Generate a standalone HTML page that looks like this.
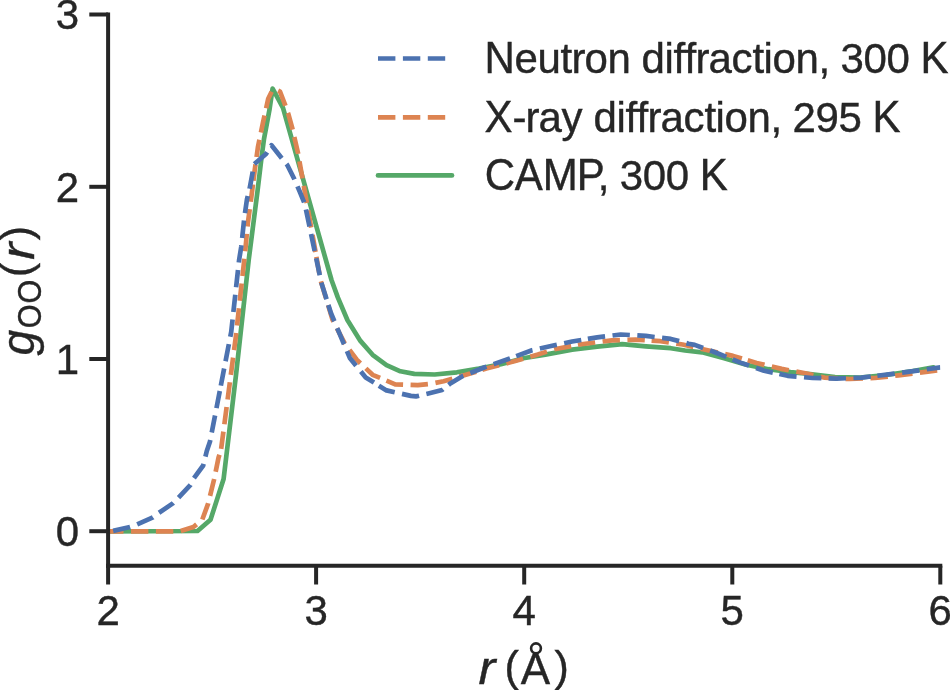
<!DOCTYPE html>
<html><head><meta charset="utf-8"><style>
html,body{margin:0;padding:0;background:#fff;width:950px;height:690px;overflow:hidden}
svg{display:block;position:absolute;left:0;top:0}
svg{will-change:transform}
</style></head><body>
<svg width="950" height="690" viewBox="0 0 950 690">
<defs><clipPath id="ax"><rect x="108.1" y="14.5" width="832.2" height="551.2"/></clipPath></defs>
<g clip-path="url(#ax)" fill="none" stroke-width="4.7" stroke-linejoin="round">
<polyline points="108.1,531.3 197.5,531.0 210.5,519.8 223.6,479.0 236.0,375.0 248.7,260.0 257.4,192.0 261.6,157.0 264.0,139.0 269.6,109.0 272.6,88.5 283.0,107.8 331.5,280.0 337.8,297.4 347.4,320.0 360.4,340.9 372.6,354.8 386.5,365.2 400.4,371.3 414.3,373.9 434.7,374.5 456.8,372.3 478.9,368.6 501.0,364.2 523.2,358.3 545.3,354.6 572.1,349.6 597.2,346.7 622.2,344.2 645.8,346.4 670.8,348.2 685.0,350.5 702.1,352.3 724.2,358.2 746.3,364.8 768.4,369.2 790.5,372.2 810.0,374.0 835.0,377.0 860.0,377.5 886.0,375.0 913.0,371.0 933.5,367.3" stroke="#55A868" stroke-linecap="round"/>
<polyline points="108.1,531.3 180.0,531.3 193.4,527.0 202.3,519.6 208.2,503.4 214.0,479.8 218.5,457.7 220.6,451.1" stroke="#DD8452" stroke-dasharray="17.4 7.5" stroke-dashoffset="2.00"/>
<polyline points="220.6,451.1 221.0,450.0 235.8,337.0 245.2,251.3 247.8,223.5 251.3,197.4 253.4,180.8" stroke="#DD8452" stroke-dasharray="17.4 7.5" stroke-dashoffset="22.65"/>
<polyline points="253.4,180.8 254.8,169.6 258.0,146.7 263.1,122.0 268.2,98.8 272.0,91.0 276.0,89.5 280.0,91.5 285.0,104.6 288.6,114.8 292.2,127.8 298.0,153.0 303.5,184.3 316.2,255.7" stroke="#DD8452" stroke-dasharray="17.4 7.5" stroke-dashoffset="0.87"/>
<polyline points="316.2,255.7 320.5,280.0 332.6,320.0 344.8,343.5 357.0,360.0 372.6,374.8 383.6,379.4" stroke="#DD8452" stroke-dasharray="17.4 7.5" stroke-dashoffset="23.72"/>
<polyline points="383.6,379.4 395.2,384.3 417.8,385.2 430.0,384.0 431.6,383.7" stroke="#DD8452" stroke-dasharray="17.4 7.5" stroke-dashoffset="21.83"/>
<polyline points="431.6,383.7 443.6,381.2 464.2,375.3 479.8,370.6" stroke="#DD8452" stroke-dasharray="17.4 7.5" stroke-dashoffset="20.95"/>
<polyline points="479.8,370.6 486.3,368.6 514.3,361.3 537.9,354.6 554.4,349.2 574.9,345.4" stroke="#DD8452" stroke-dasharray="17.4 7.5" stroke-dashoffset="22.29"/>
<polyline points="574.9,345.4 579.5,344.5 611.9,340.3 635.5,339.6 648.5,340.4" stroke="#DD8452" stroke-dasharray="17.4 7.5" stroke-dashoffset="21.82"/>
<polyline points="648.5,340.4 660.5,341.2 682.6,344.5 697.0,347.8" stroke="#DD8452" stroke-dasharray="17.4 7.5" stroke-dashoffset="21.81"/>
<polyline points="697.0,347.8 706.5,350.0 733.0,355.9 745.5,359.7" stroke="#DD8452" stroke-dasharray="17.4 7.5" stroke-dashoffset="20.99"/>
<polyline points="745.5,359.7 756.6,363.0 781.7,368.9 792.5,370.9" stroke="#DD8452" stroke-dasharray="17.4 7.5" stroke-dashoffset="22.59"/>
<polyline points="792.5,370.9 805.3,373.3 824.7,377.6 841.8,378.6" stroke="#DD8452" stroke-dasharray="17.4 7.5" stroke-dashoffset="21.02"/>
<polyline points="841.8,378.6 849.8,379.0 874.8,378.0 891.5,376.2" stroke="#DD8452" stroke-dasharray="17.4 7.5" stroke-dashoffset="21.11"/>
<polyline points="891.5,376.2 898.4,375.4 927.9,371.7 940.3,370.0" stroke="#DD8452" stroke-dasharray="17.4 7.5" stroke-dashoffset="21.20"/>
<polyline points="108.1,532.0 130.0,527.0 136.7,524.7 152.9,517.4 158.8,512.9 172.8,503.4 177.9,498.2 190.5,484.9 193.4,479.0 203.2,465.5 206.8,451.0 210.0,441.5 220.5,387.4" stroke="#4C72B0" stroke-dasharray="17.4 7.5" stroke-dashoffset="19.72"/>
<polyline points="220.5,387.4 231.2,332.0 239.1,260.0 241.2,247.0 244.3,218.0 247.0,199.0 249.6,188.7 252.2,174.8 253.4,167.9" stroke="#4C72B0" stroke-dasharray="17.4 7.5" stroke-dashoffset="23.10"/>
<polyline points="253.4,167.9 254.0,164.3 266.0,154.0 271.5,145.2 280.4,156.5 287.4,165.2 294.3,179.0 299.6,191.3 304.8,204.0 305.2,206.0" stroke="#4C72B0" stroke-dasharray="17.4 7.5" stroke-dashoffset="20.80"/>
<polyline points="305.2,206.0 321.3,282.6 327.7,302.8" stroke="#4C72B0" stroke-dasharray="17.4 7.5" stroke-dashoffset="21.29"/>
<polyline points="327.7,302.8 330.9,313.0 340.4,335.7 350.0,358.3 365.7,377.4 377.2,384.6" stroke="#4C72B0" stroke-dasharray="17.4 7.5" stroke-dashoffset="22.66"/>
<polyline points="377.2,384.6 386.5,390.4 410.9,395.9 416.0,396.4 427.4,393.7 442.1,390.0 445.9,386.9" stroke="#4C72B0" stroke-dasharray="17.4 7.5" stroke-dashoffset="22.92"/>
<polyline points="445.9,386.9 449.5,384.1 462.7,376.0 484.8,367.2 508.4,359.0 513.6,357.1" stroke="#4C72B0" stroke-dasharray="17.4 7.5" stroke-dashoffset="21.55"/>
<polyline points="513.6,357.1 532.0,350.2 555.6,345.0 572.1,341.5 584.9,339.4" stroke="#4C72B0" stroke-dasharray="17.4 7.5" stroke-dashoffset="22.12"/>
<polyline points="584.9,339.4 597.2,337.4 620.7,334.5 633.6,335.2" stroke="#4C72B0" stroke-dasharray="17.4 7.5" stroke-dashoffset="21.90"/>
<polyline points="633.6,335.2 645.8,335.9 670.8,338.9 682.8,342.1" stroke="#4C72B0" stroke-dasharray="17.4 7.5" stroke-dashoffset="21.19"/>
<polyline points="682.8,342.1 688.5,343.7 694.7,344.9 716.8,353.0 729.8,358.3" stroke="#4C72B0" stroke-dasharray="17.4 7.5" stroke-dashoffset="21.14"/>
<polyline points="729.8,358.3 740.4,362.6 764.0,370.7 776.5,373.4" stroke="#4C72B0" stroke-dasharray="17.4 7.5" stroke-dashoffset="21.78"/>
<polyline points="776.5,373.4 787.6,375.8 812.6,378.0 825.1,378.3" stroke="#4C72B0" stroke-dasharray="17.4 7.5" stroke-dashoffset="21.95"/>
<polyline points="825.1,378.3 836.5,378.6 861.6,377.6 874.5,376.1" stroke="#4C72B0" stroke-dasharray="17.4 7.5" stroke-dashoffset="21.43"/>
<polyline points="874.5,376.1 886.6,374.6 913.2,371.2 940.4,367.3" stroke="#4C72B0" stroke-dasharray="17.4 7.5" stroke-dashoffset="21.98"/>
</g>
<g stroke="#262626" stroke-width="4" fill="none" stroke-linecap="square">
<line x1="108.1" y1="14.5" x2="108.1" y2="565.7"/>
<line x1="108.1" y1="565.7" x2="940.3" y2="565.7"/>
</g>
<g stroke="#262626" stroke-width="4" fill="none">
<line x1="89.3" y1="531.2" x2="108.1" y2="531.2"/>
<line x1="89.3" y1="359.0" x2="108.1" y2="359.0"/>
<line x1="89.3" y1="186.8" x2="108.1" y2="186.8"/>
<line x1="89.3" y1="14.5" x2="108.1" y2="14.5"/>
<line x1="108.1" y1="565.7" x2="108.1" y2="584.5"/>
<line x1="316.1" y1="565.7" x2="316.1" y2="584.5"/>
<line x1="524.2" y1="565.7" x2="524.2" y2="584.5"/>
<line x1="732.3" y1="565.7" x2="732.3" y2="584.5"/>
<line x1="940.3" y1="565.7" x2="940.3" y2="584.5"/>
</g>
<g font-family="Liberation Sans" stroke="#262626" stroke-width="0.4" font-size="42" fill="#262626">
<text transform="translate(79.00,546.15) scale(1,1.026)" text-anchor="end">0</text>
<text transform="translate(79.00,373.90) scale(1,1.026)" text-anchor="end">1</text>
<text transform="translate(79.00,201.65) scale(1,1.026)" text-anchor="end">2</text>
<text transform="translate(79.00,29.40) scale(1,1.026)" text-anchor="end">3</text>
<text transform="translate(108.10,625.00) scale(1,1.026)" text-anchor="middle">2</text>
<text transform="translate(316.15,625.00) scale(1,1.026)" text-anchor="middle">3</text>
<text transform="translate(524.20,625.00) scale(1,1.026)" text-anchor="middle">4</text>
<text transform="translate(732.25,625.00) scale(1,1.026)" text-anchor="middle">5</text>
<text transform="translate(940.30,625.00) scale(1,1.026)" text-anchor="middle">6</text>
</g>
<g font-family="Liberation Sans" stroke="#262626" stroke-width="0.4" fill="#262626">
<text transform="translate(478.6,683.8) scale(1.1,1)" font-size="46" font-style="italic">r</text>
<text x="504.6" y="680.9" font-size="43">(</text>
<text x="520.8" y="683.8" font-size="44">A</text>
<circle cx="536" cy="648.3" r="4.9" fill="none" stroke="#262626" stroke-width="2.6"/>
<text x="554.6" y="680.9" font-size="43">)</text>
</g>
<g font-family="Liberation Sans" stroke="#262626" stroke-width="0.4" fill="#262626" transform="translate(33.8,360) rotate(-90)">
<text x="4.4" y="0" font-size="46" font-style="italic">g</text>
<text transform="translate(31.85,7.5) scale(0.93,1)" font-size="33">O</text>
<text transform="translate(56.55,7.5) scale(0.93,1)" font-size="33">O</text>
<text x="82.7" y="-2.9" font-size="43">(</text>
<text transform="translate(100.3,0) scale(1.12,1)" font-size="46" font-style="italic">r</text>
<text x="119.8" y="-2.9" font-size="43">)</text>
</g>
<g fill="none" stroke-width="4.7">
<line x1="378" y1="58.5" x2="452" y2="58.5" stroke="#4C72B0" stroke-dasharray="17.4 7.5"/>
<line x1="378" y1="117.4" x2="452" y2="117.4" stroke="#DD8452" stroke-dasharray="17.4 7.5"/>
<line x1="378" y1="175.4" x2="452" y2="175.4" stroke="#55A868" stroke-linecap="round"/>
</g>
<g font-family="Liberation Sans" stroke="#262626" stroke-width="0.4" font-size="42" fill="#262626">
<text transform="translate(484.55,73.00) scale(1,1.04)">N</text>
<text x="514.55" y="73.00">e</text>
<text x="537.55" y="73.00">u</text>
<text x="560.55" y="73.00">t</text>
<text x="571.55" y="73.00">r</text>
<text x="584.55" y="73.00">o</text>
<text x="607.55" y="73.00">n</text>
<text x="641.55" y="73.00">d</text>
<text x="664.55" y="73.00">i</text>
<text x="673.55" y="73.00">f</text>
<text x="684.55" y="73.00">f</text>
<text x="695.55" y="73.00">r</text>
<text x="708.55" y="73.00">a</text>
<text x="731.55" y="73.00">c</text>
<text x="752.55" y="73.00">t</text>
<text x="763.55" y="73.00">i</text>
<text x="772.55" y="73.00">o</text>
<text x="795.55" y="73.00">n</text>
<text x="818.55" y="73.00">,</text>
<text transform="translate(840.55,73.00) scale(1,1.026)">3</text>
<text transform="translate(863.55,73.00) scale(1,1.026)">0</text>
<text transform="translate(886.55,73.00) scale(1,1.026)">0</text>
<text transform="translate(920.55,73.00) scale(1,1.04)">K</text>
<text transform="translate(484.46,131.60) scale(1,1.04)">X</text>
<text x="512.46" y="131.60">-</text>
<text x="525.46" y="131.60">r</text>
<text x="538.46" y="131.60">a</text>
<text x="561.46" y="131.60">y</text>
<text x="593.46" y="131.60">d</text>
<text x="616.46" y="131.60">i</text>
<text x="625.46" y="131.60">f</text>
<text x="636.46" y="131.60">f</text>
<text x="647.46" y="131.60">r</text>
<text x="660.46" y="131.60">a</text>
<text x="683.46" y="131.60">c</text>
<text x="704.46" y="131.60">t</text>
<text x="715.46" y="131.60">i</text>
<text x="724.46" y="131.60">o</text>
<text x="747.46" y="131.60">n</text>
<text x="770.46" y="131.60">,</text>
<text transform="translate(792.46,131.60) scale(1,1.026)">2</text>
<text transform="translate(815.46,131.60) scale(1,1.026)">9</text>
<text transform="translate(838.46,131.60) scale(1,1.026)">5</text>
<text transform="translate(872.46,131.60) scale(1,1.04)">K</text>
<text transform="translate(484.77,189.90) scale(1,1.04)">C</text>
<text transform="translate(514.77,189.90) scale(1,1.04)">A</text>
<text transform="translate(542.77,189.90) scale(1,1.04)">M</text>
<text transform="translate(576.77,189.90) scale(1,1.04)">P</text>
<text x="597.77" y="189.90">,</text>
<text transform="translate(619.77,189.90) scale(1,1.026)">3</text>
<text transform="translate(642.77,189.90) scale(1,1.026)">0</text>
<text transform="translate(665.77,189.90) scale(1,1.026)">0</text>
<text transform="translate(699.77,189.90) scale(1,1.04)">K</text>
</g>
</svg>
</body></html>
